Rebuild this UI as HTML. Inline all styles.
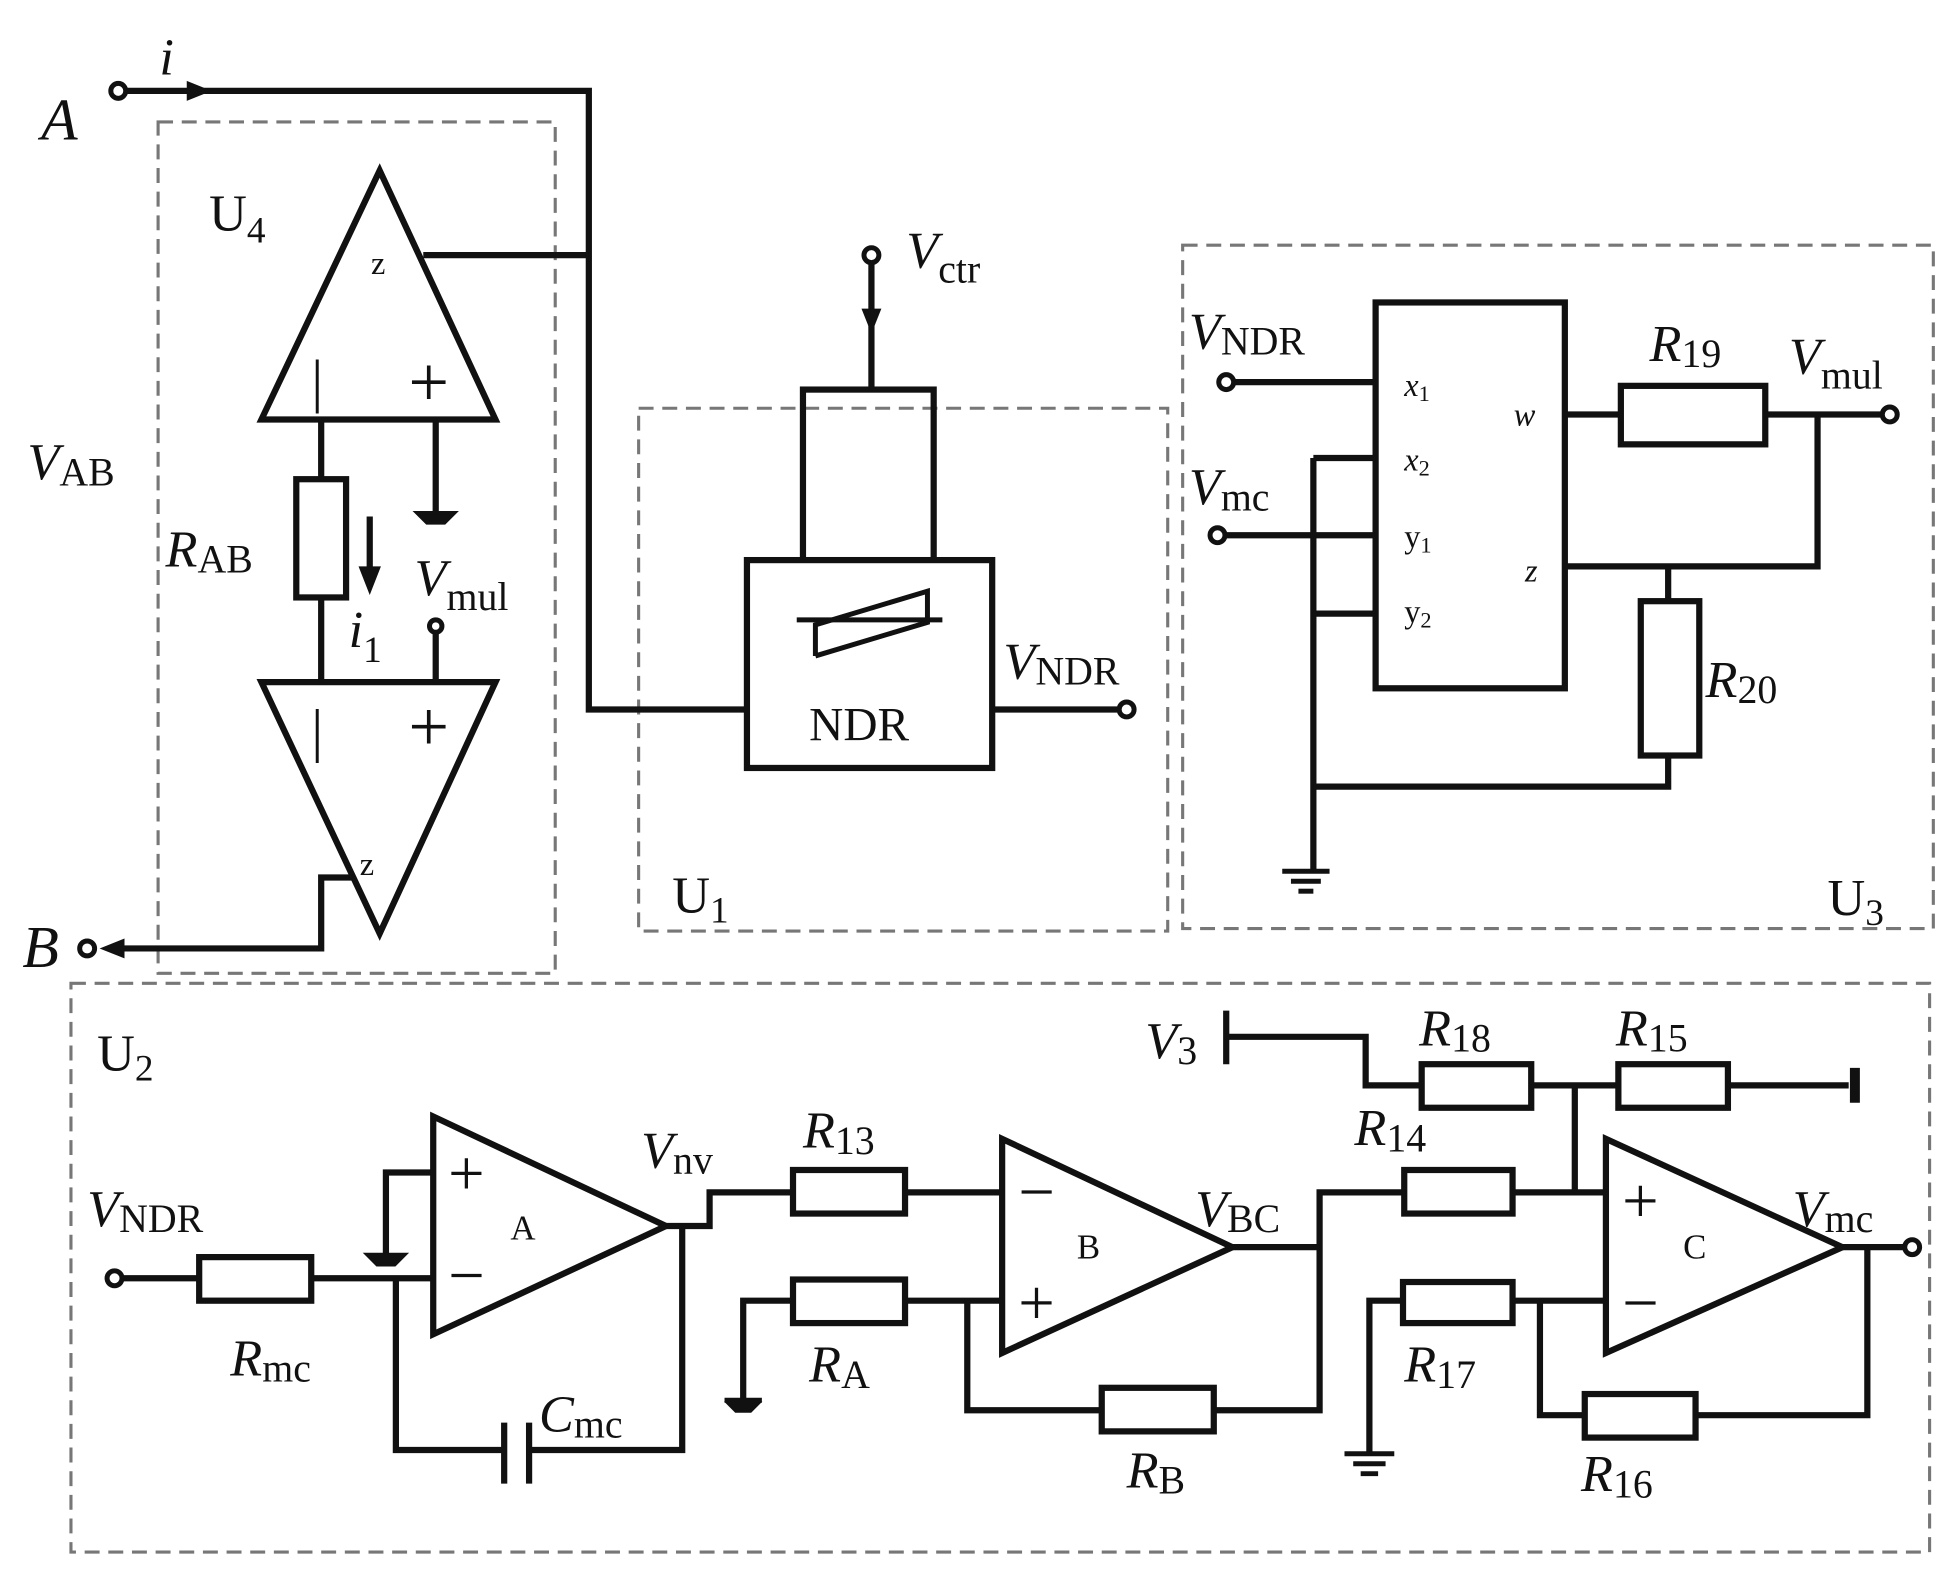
<!DOCTYPE html>
<html><head><meta charset="utf-8"><style>
html,body{margin:0;padding:0;background:#fff}
svg{display:block}
text{font-family:"Liberation Serif",serif;fill:#111}
.it{font-style:italic}
</style></head><body>
<svg width="1952" height="1577" viewBox="0 0 1568 1267" preserveAspectRatio="none" xmlns="http://www.w3.org/2000/svg">
<g fill="none" stroke="#777" stroke-width="2.5" stroke-dasharray="12,7">
<rect x="127" y="98" width="319" height="684"/>
<rect x="513" y="328" width="425" height="420"/>
<rect x="950" y="197" width="603" height="549"/>
<rect x="57" y="790" width="1493" height="457"/>
</g>
<g fill="none" stroke="#111" stroke-width="5" stroke-linejoin="miter">
<polyline points="101,73 473,73 473,570 600,570"/>
<line x1="340" y1="205" x2="473" y2="205"/>
<polygon points="305,137 210,337 398,337"/>
<polygon points="305,750 210,548 398,548"/>
<line x1="258" y1="337" x2="258" y2="385"/>
<rect x="238" y="385" width="40" height="95" fill="#fff"/>
<line x1="258" y1="480" x2="258" y2="548"/>
<line x1="350" y1="337" x2="350" y2="412"/>
<line x1="297" y1="415" x2="297" y2="460"/>
<line x1="350" y1="508" x2="350" y2="548"/>
<polyline points="283,705 258,705 258,762 88,762"/>
<line x1="700" y1="211" x2="700" y2="313"/>
<rect x="645" y="313" width="105" height="137"/>
<rect x="600" y="450" width="197" height="167" fill="#fff"/>
<line x1="797" y1="570" x2="899" y2="570"/>
<rect x="1105" y="243" width="152" height="310"/>
<line x1="991" y1="307" x2="1105" y2="307"/>
<line x1="1055" y1="368" x2="1105" y2="368"/>
<line x1="984" y1="430" x2="1105" y2="430"/>
<line x1="1055" y1="493" x2="1105" y2="493"/>
<line x1="1055" y1="368" x2="1055" y2="700"/>
<polyline points="1055,632 1340,632 1340,607"/>
<line x1="1257" y1="333" x2="1302" y2="333"/>
<rect x="1302" y="310" width="116" height="47"/>
<line x1="1418" y1="333" x2="1512" y2="333"/>
<polyline points="1460,333 1460,455 1257,455"/>
<line x1="1340" y1="455" x2="1340" y2="483"/>
<rect x="1318" y="483" width="47" height="124"/>
<line x1="98" y1="1027" x2="160" y2="1027"/>
<rect x="160" y="1010" width="90" height="35"/>
<line x1="250" y1="1027" x2="348" y2="1027"/>
<polyline points="348,942 310,942 310,1008"/>
<polyline points="318,1027 318,1165 405,1165"/>
<line x1="405" y1="1143" x2="405" y2="1192"/>
<line x1="425" y1="1143" x2="425" y2="1192"/>
<polyline points="425,1165 548,1165 548,985"/>
<polygon points="348,897 348,1072 535,985"/>
<polyline points="535,985 570,985 570,958 590,958 637,958"/>
<rect x="637" y="940" width="90" height="35"/>
<line x1="727" y1="958" x2="805" y2="958"/>
<polygon points="805,915 805,1087 990,1002"/>
<polyline points="597,1125 597,1045 637,1045"/>
<rect x="637" y="1028" width="90" height="35"/>
<line x1="727" y1="1045" x2="805" y2="1045"/>
<polyline points="777,1045 777,1133 885,1133"/>
<rect x="885" y="1115" width="90" height="35"/>
<polyline points="975,1133 1060,1133 1060,958 1128,958"/>
<line x1="990" y1="1002" x2="1060" y2="1002"/>
<rect x="1128" y="940" width="87" height="35"/>
<line x1="1215" y1="958" x2="1290" y2="958"/>
<line x1="1265" y1="958" x2="1265" y2="872"/>
<line x1="985" y1="812" x2="985" y2="855"/>
<polyline points="985,833 1097,833 1097,872 1142,872"/>
<rect x="1142" y="855" width="88" height="35"/>
<line x1="1230" y1="872" x2="1300" y2="872"/>
<rect x="1300" y="855" width="88" height="35"/>
<line x1="1388" y1="872" x2="1485" y2="872"/>
<polygon points="1290,915 1290,1087 1480,1002"/>
<polyline points="1100,1168 1100,1045 1127,1045"/>
<rect x="1127" y="1030" width="88" height="33"/>
<line x1="1215" y1="1045" x2="1290" y2="1045"/>
<polyline points="1237,1045 1237,1137 1273,1137"/>
<rect x="1273" y="1120" width="89" height="35"/>
<polyline points="1362,1137 1500,1137 1500,1002 1530,1002"/>
<line x1="1480" y1="1002" x2="1500" y2="1002"/>
</g>
<g fill="none" stroke="#111" stroke-width="4">
<line x1="640" y1="498" x2="757" y2="498"/>
<polyline points="655,527 655,502 745,475 745,500 655,527"/>
</g>
<g fill="#fff" stroke="#111" stroke-width="4">
<circle cx="95" cy="73" r="6"/><circle cx="350" cy="503" r="5"/><circle cx="700" cy="205" r="6"/>
<circle cx="905" cy="570" r="6"/><circle cx="985" cy="307" r="6"/><circle cx="978" cy="430" r="6"/>
<circle cx="1518" cy="333" r="6"/><circle cx="92" cy="1027" r="6"/><circle cx="1536" cy="1002" r="6"/>
<circle cx="70" cy="762" r="6"/>
</g>
<g fill="#111" stroke="#111" stroke-width="4">
<polygon points="170,73 150,65 150,81" stroke="none"/>
<polygon points="297,478 288,455 306,455" stroke="none"/>
<polygon points="700,268 692,248 708,248" stroke="none"/>
<polygon points="80,762 100,754 100,770" stroke="none"/>
<path d="M335,412 h30 l-8,8 h-14 z" stroke-width="3"/>
<path d="M295,1008 h30 l-8,8 h-14 z" stroke-width="3"/>
<line x1="1490" y1="858" x2="1490" y2="886" stroke-width="8"/>
<line x1="1030" y1="700" x2="1068" y2="700"/>
<line x1="1037" y1="708" x2="1061" y2="708"/>
<line x1="1043" y1="716" x2="1055" y2="716"/>
<line x1="582" y1="1125" x2="612" y2="1125"/>
<path d="M584,1127 h26 l-7,7 h-12 z" stroke-width="2"/>
<line x1="1080" y1="1168" x2="1120" y2="1168"/>
<line x1="1087" y1="1176" x2="1113" y2="1176"/>
<line x1="1093" y1="1184" x2="1107" y2="1184"/>
</g>
<g font-size="42">
<text x="128" y="60" class="it">i</text>
<text x="33" y="112" class="it" font-size="48">A</text>
<text x="18" y="777" class="it" font-size="48">B</text>
<text x="168" y="185">U<tspan font-size="30" dy="10">4</tspan></text>
<text x="298" y="220" font-size="26">z</text>
<text x="250" y="322" font-size="48">|</text>
<text x="328" y="326" font-size="58">+</text>
<text x="250" y="603" font-size="48">|</text>
<text x="328" y="603" font-size="58">+</text>
<text x="289" y="703" font-size="26">z</text>
<text x="22" y="385" class="it">V<tspan font-style="normal" font-size="32" dy="5">AB</tspan></text>
<text x="133" y="455" class="it">R<tspan font-style="normal" font-size="32" dy="5">AB</tspan></text>
<text x="280" y="520" class="it">i<tspan font-style="normal" font-size="30" dy="12">1</tspan></text>
<text x="333" y="478" class="it">V<tspan font-style="normal" font-size="32" dy="12">mul</tspan></text>
<text x="728" y="215" class="it">V<tspan font-style="normal" font-size="32" dy="12">ctr</tspan></text>
<text x="650" y="595" font-size="38">NDR</text>
<text x="806" y="545" class="it">V<tspan font-style="normal" font-size="32" dy="5">NDR</tspan></text>
<text x="540" y="733">U<tspan font-size="30" dy="8">1</tspan></text>
<text x="955" y="280" class="it">V<tspan font-style="normal" font-size="32" dy="5">NDR</tspan></text>
<text x="955" y="405" class="it">V<tspan font-style="normal" font-size="32" dy="5">mc</tspan></text>
<text x="1128" y="318" font-size="26" class="it">x<tspan font-style="normal" font-size="18" dy="4">1</tspan></text>
<text x="1128" y="378" font-size="26" class="it">x<tspan font-style="normal" font-size="18" dy="4">2</tspan></text>
<text x="1128" y="440" font-size="26">y<tspan font-size="18" dy="4">1</tspan></text>
<text x="1128" y="500" font-size="26">y<tspan font-size="18" dy="4">2</tspan></text>
<text x="1216" y="342" font-size="26" class="it">w</text>
<text x="1225" y="467" font-size="26" class="it">z</text>
<text x="1325" y="290" class="it">R<tspan font-style="normal" font-size="32" dy="5">19</tspan></text>
<text x="1437" y="300" class="it">V<tspan font-style="normal" font-size="32" dy="12">mul</tspan></text>
<text x="1370" y="560" class="it">R<tspan font-style="normal" font-size="32" dy="5">20</tspan></text>
<text x="1468" y="735">U<tspan font-size="30" dy="8">3</tspan></text>
<text x="78" y="860">U<tspan font-size="30" dy="8">2</tspan></text>
<text x="70" y="985" class="it">V<tspan font-style="normal" font-size="32" dy="5">NDR</tspan></text>
<text x="185" y="1105" class="it">R<tspan font-style="normal" font-size="32" dy="5">mc</tspan></text>
<text x="433" y="1150" class="it">C<tspan font-style="normal" font-size="32" dy="5">mc</tspan></text>
<text x="360" y="960" font-size="52">+</text>
<text x="360" y="1042" font-size="52">−</text>
<text x="410" y="996" font-size="28">A</text>
<text x="515" y="938" class="it">V<tspan font-style="normal" font-size="32" dy="5">nv</tspan></text>
<text x="645" y="922" class="it">R<tspan font-style="normal" font-size="32" dy="5">13</tspan></text>
<text x="818" y="975" font-size="52">−</text>
<text x="818" y="1064" font-size="52">+</text>
<text x="865" y="1011" font-size="28">B</text>
<text x="650" y="1110" class="it">R<tspan font-style="normal" font-size="32" dy="5">A</tspan></text>
<text x="905" y="1195" class="it">R<tspan font-style="normal" font-size="32" dy="5">B</tspan></text>
<text x="960" y="985" class="it">V<tspan font-style="normal" font-size="32" dy="5">BC</tspan></text>
<text x="1088" y="920" class="it">R<tspan font-style="normal" font-size="32" dy="5">14</tspan></text>
<text x="920" y="850" class="it">V<tspan font-style="normal" font-size="32" dy="5">3</tspan></text>
<text x="1140" y="840" class="it">R<tspan font-style="normal" font-size="32" dy="5">18</tspan></text>
<text x="1298" y="840" class="it">R<tspan font-style="normal" font-size="32" dy="5">15</tspan></text>
<text x="1303" y="982" font-size="52">+</text>
<text x="1303" y="1064" font-size="52">−</text>
<text x="1352" y="1011" font-size="28">C</text>
<text x="1440" y="985" class="it">V<tspan font-style="normal" font-size="32" dy="5">mc</tspan></text>
<text x="1128" y="1110" class="it">R<tspan font-style="normal" font-size="32" dy="5">17</tspan></text>
<text x="1270" y="1198" class="it">R<tspan font-style="normal" font-size="32" dy="5">16</tspan></text>
</g>
</svg>
</body></html>
